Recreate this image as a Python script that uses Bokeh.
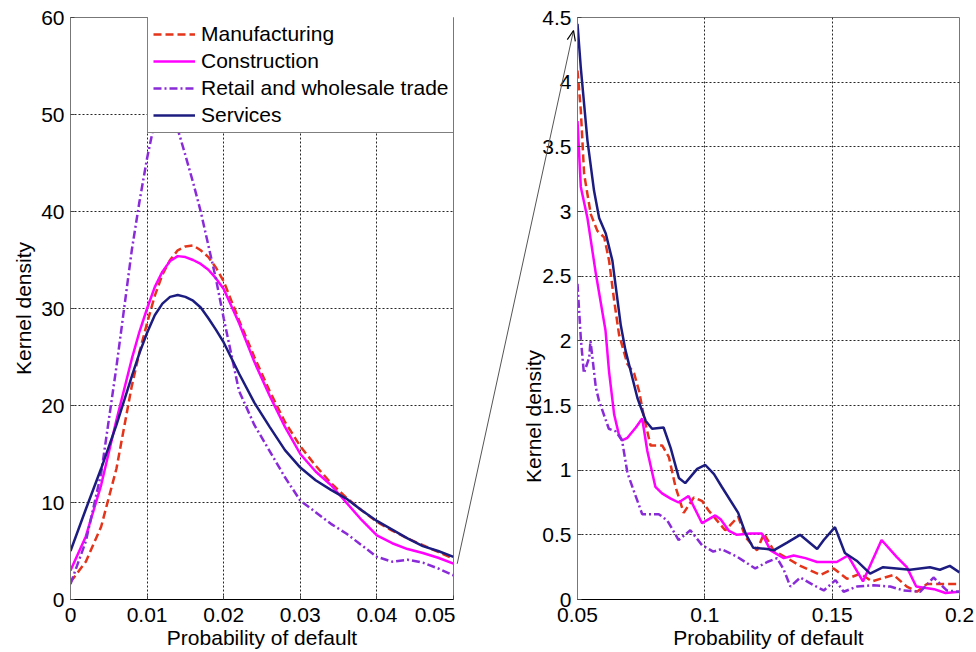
import math
from bokeh.plotting import figure
from bokeh.models import (Range1d, FixedTicker, CustomJSTickFormatter, Legend, LegendItem)
from bokeh.core.properties import value
from bokeh.layouts import row
from bokeh.embed import file_html
from bokeh.resources import INLINE

FONT = "Liberation Sans"
FS = "21px"

series_names = ["Manufacturing", "Construction", "Retail and wholesale trade", "Services"]

# ---- left panel (PD 0 - 0.05) ----
x_left = [0.0, 0.002, 0.004, 0.006, 0.008, 0.009, 0.010, 0.011, 0.012, 0.013, 0.014, 0.015,
          0.016, 0.017, 0.018, 0.019, 0.020, 0.022, 0.024, 0.026, 0.028, 0.030, 0.032,
          0.034, 0.036, 0.038, 0.040, 0.042, 0.044, 0.046, 0.048, 0.050]
manu_left = [1.8, 3.9, 7.5, 13.5, 22.0, 25.5, 28.5, 31.3, 33.5, 35.0, 36.0, 36.4,
             36.5, 36.0, 35.3, 34.2, 32.8, 28.8, 25.0, 21.5, 18.3, 15.8, 13.8,
             12.0, 10.5, 9.2, 8.0, 7.1, 6.3, 5.6, 4.9, 4.2]
cons_left = [3.0, 6.5, 11.8, 18.5, 24.8, 27.6, 30.0, 32.2, 33.8, 34.9, 35.4, 35.3,
             35.0, 34.6, 34.0, 33.1, 32.0, 28.5, 24.5, 21.0, 17.8, 15.0, 13.2,
             11.8, 10.0, 8.2, 6.6, 5.8, 5.2, 4.8, 4.3, 3.7]
reta_left = [1.6, 6.0, 13.0, 24.0, 36.0, 41.0, 45.5, 49.3, 51.5, 51.3, 48.5, 45.8,
             43.0, 40.0, 36.5, 33.0, 29.0, 21.5, 18.0, 15.3, 12.6, 10.2, 9.0,
             7.8, 6.8, 5.6, 4.4, 3.9, 4.1, 3.8, 3.2, 2.5]
serv_left = [5.0, 9.3, 13.5, 18.0, 23.0, 25.4, 27.5, 29.3, 30.5, 31.2, 31.4, 31.2,
             30.8, 30.1, 29.0, 27.8, 26.5, 23.3, 20.3, 17.8, 15.4, 13.6, 12.3,
             11.3, 10.4, 9.2, 8.1, 7.2, 6.3, 5.5, 5.0, 4.4]

# ---- right panel (PD 0.05 - 0.2) ----
manu_rx = [0.05, 0.0513, 0.0526, 0.0552, 0.0578, 0.0605, 0.0624, 0.0644, 0.0663, 0.0696, 0.0722,
           0.0742, 0.0761, 0.0787, 0.0833, 0.0859, 0.0885, 0.0917, 0.0957, 0.099, 0.1014, 0.108,
           0.1131, 0.116, 0.1205, 0.1232, 0.127, 0.1323, 0.1375, 0.1454, 0.1506, 0.1558, 0.1611,
           0.1656, 0.1741, 0.1793, 0.1833, 0.1872, 0.2]
manu_ry = [4.09, 3.78, 3.29, 2.98, 2.85, 2.80, 2.62, 2.31, 2.05, 1.82, 1.75,
           1.61, 1.41, 1.19, 1.19, 1.10, 0.87, 0.67, 0.79, 0.76, 0.69, 0.535,
           0.64, 0.48, 0.38, 0.51, 0.38, 0.32, 0.26, 0.19, 0.24, 0.16, 0.20,
           0.14, 0.19, 0.10, 0.06, 0.12, 0.12]

cons_rx = [0.05, 0.0513, 0.0539, 0.0572, 0.061, 0.0624, 0.0644, 0.0662, 0.0675, 0.0696, 0.0729,
           0.0754, 0.0774, 0.0806, 0.0832, 0.0866, 0.0897, 0.0936, 0.0989, 0.1041, 0.1062, 0.1095,
           0.1126, 0.118, 0.1224, 0.1258, 0.131, 0.1349, 0.1395, 0.1441, 0.1518, 0.1562, 0.1621,
           0.1694, 0.1753, 0.1793, 0.183, 0.19, 0.1945, 0.2]
cons_ry = [3.70, 3.19, 2.95, 2.52, 2.08, 1.76, 1.43, 1.28, 1.23, 1.25, 1.33,
           1.40, 1.15, 0.87, 0.82, 0.78, 0.75, 0.80, 0.59, 0.65, 0.62, 0.53,
           0.50, 0.51, 0.51, 0.38, 0.32, 0.34, 0.32, 0.29, 0.29, 0.34, 0.14,
           0.46, 0.33, 0.25, 0.10, 0.08, 0.05, 0.06]

reta_rx = [0.05, 0.0513, 0.0525, 0.0546, 0.0551, 0.0572, 0.0584, 0.0623, 0.065, 0.0675, 0.0696,
           0.0721, 0.0754, 0.0819, 0.0853, 0.0897, 0.0943, 0.0989, 0.1033, 0.1065, 0.1127, 0.1198,
           0.1245, 0.1284, 0.131, 0.1336, 0.1375, 0.1428, 0.1467, 0.1513, 0.1545, 0.1597, 0.1663,
           0.1728, 0.178, 0.1846, 0.1898, 0.195, 0.2]
reta_ry = [2.44, 2.02, 1.75, 1.87, 2.00, 1.64, 1.54, 1.32, 1.30, 1.23, 0.98,
           0.84, 0.66, 0.66, 0.61, 0.46, 0.535, 0.42, 0.37, 0.39, 0.33, 0.24,
           0.29, 0.32, 0.23, 0.10, 0.17, 0.11, 0.07, 0.15, 0.06, 0.10, 0.11,
           0.10, 0.07, 0.06, 0.17, 0.07, 0.06]

serv_rx = [0.05, 0.0513, 0.0539, 0.0565, 0.0585, 0.0611, 0.0637, 0.067, 0.0688, 0.0735, 0.0768,
           0.0793, 0.0838, 0.0866, 0.0898, 0.0923, 0.097, 0.1002, 0.1036, 0.1067, 0.1131, 0.116,
           0.119, 0.1245, 0.127, 0.1323, 0.1374, 0.1441, 0.1467, 0.1511, 0.155, 0.1596, 0.1649,
           0.17, 0.1806, 0.1884, 0.1923, 0.1962, 0.2]
serv_ry = [4.45, 4.11, 3.55, 3.16, 2.95, 2.83, 2.62, 2.12, 1.93, 1.56, 1.38,
           1.32, 1.33, 1.17, 0.94, 0.90, 1.01, 1.04, 0.97, 0.87, 0.67, 0.51,
           0.40, 0.39, 0.38, 0.44, 0.50, 0.39, 0.46, 0.56, 0.36, 0.30, 0.20,
           0.25, 0.23, 0.25, 0.23, 0.26, 0.21]

left_xticks = [0, 0.01, 0.02, 0.03, 0.04, 0.05]
left_yticks = [0, 10, 20, 30, 40, 50, 60]
right_xticks = [0.05, 0.1, 0.15, 0.2]
right_yticks = [0, 0.5, 1, 1.5, 2, 2.5, 3, 3.5, 4, 4.5]

colors = ["#E5341A", "#FF00FF", "#8A2BD8", "#1C1C80"]
dashes = ["8 4", "solid", "8 3 2 3", "solid"]

# layout geometry (pixels)
W1, W2, H = 455, 521, 652
FRAME_TOP, FRAME_BOTTOM = 17, 599
R_FRAME_LEFT, R_FRAME_RIGHT = 577, 959

fmt = CustomJSTickFormatter(code="return String(+tick.toFixed(4));")


def style(p, xt, yt):
    p.xaxis.ticker = FixedTicker(ticks=xt)
    p.yaxis.ticker = FixedTicker(ticks=yt)
    for ax in (p.xaxis[0], p.yaxis[0]):
        ax.formatter = fmt
        ax.major_label_text_font = FONT
        ax.major_label_text_font_size = FS
        ax.major_label_text_color = "black"
        ax.axis_label_text_font = FONT
        ax.axis_label_text_font_size = FS
        ax.axis_label_text_font_style = "normal"
        ax.axis_label_text_color = "black"
        ax.major_tick_in = 4
        ax.major_tick_out = 0
        ax.minor_tick_line_color = None
        ax.major_tick_line_color = "#444444"
    p.xaxis.axis_line_color = "black"
    p.yaxis.axis_line_color = "#777777"
    p.xaxis.major_label_standoff = 8
    p.xaxis.axis_label_standoff = 1
    p.yaxis.major_label_standoff = 6
    p.grid.grid_line_color = "black"
    p.grid.grid_line_dash = "2 2"
    p.grid.grid_line_alpha = 0.85
    p.grid.grid_line_width = 1
    p.outline_line_color = "#777777"
    p.outline_line_width = 1
    p.background_fill_color = "white"
    p.border_fill_color = "white"


# ---------- left figure ----------
p1 = figure(width=W1, height=H, output_backend="svg", toolbar_location=None,
            x_range=Range1d(0, 0.05), y_range=Range1d(0, 60),
            min_border_left=70, min_border_right=W1 - 453,
            min_border_top=FRAME_TOP, min_border_bottom=H - FRAME_BOTTOM)
style(p1, left_xticks, left_yticks)
p1.xaxis.axis_label = "Probability of default"
p1.yaxis.axis_label = "Kernel density"
p1.yaxis.axis_label_standoff = 3

left_data = [manu_left, cons_left, reta_left, serv_left]
items = []
for name, ys, c, d in zip(series_names, left_data, colors, dashes):
    r = p1.line(x_left, ys, line_color=c, line_width=2.5, line_dash=d)
    items.append(LegendItem(label=name, renderers=[r]))

legend = Legend(items=items, location=(77, 466), orientation="vertical",
                label_text_font=FONT, label_text_font_size=FS, label_text_color="black",
                glyph_width=42, glyph_height=20, label_height=20, label_standoff=6,
                spacing=3, padding=5, margin=0,
                border_line_color="black", border_line_width=1,
                background_fill_color="white", background_fill_alpha=1)
p1.add_layout(legend, "center")

# ---------- right figure ----------
p2 = figure(width=W2, height=H, output_backend="svg", toolbar_location=None,
            x_range=Range1d(0.05, 0.2), y_range=Range1d(0, 4.5),
            min_border_left=R_FRAME_LEFT - W1, min_border_right=W1 + W2 - R_FRAME_RIGHT,
            min_border_top=FRAME_TOP, min_border_bottom=H - FRAME_BOTTOM)
style(p2, right_xticks, right_yticks)
p2.xaxis.axis_label = "Probability of default"

right_data = [(manu_rx, manu_ry), (cons_rx, cons_ry), (reta_rx, reta_ry), (serv_rx, serv_ry)]
for (xs, ys), c, d in zip(right_data, colors, dashes):
    p2.line(xs, ys, line_color=c, line_width=2.5, line_dash=d)

xr, yr = p2.x_range, p2.y_range
sx = (R_FRAME_RIGHT - R_FRAME_LEFT) / (xr.end - xr.start)
sy = (FRAME_BOTTOM - FRAME_TOP) / (yr.end - yr.start)


def to_data(px, py):
    """page pixel -> right panel data coordinates (for decorations in its border)"""
    return xr.start + (px - R_FRAME_LEFT) / sx, yr.start + (FRAME_BOTTOM - py) / sy


# right panel y-axis title (placed lower than centre, as in the original)
lx, ly = to_data(533, 416)
p2.text(x=[lx], y=[ly], text=["Kernel density"], angle=math.pi / 2,
        text_align="center", text_baseline="middle", text_font=value(FONT),
        text_font_size=FS, text_color="black", level="overlay")

# ---------- zoom arrow (decoration): from the left panel's right edge to the right panel's corner ----------
tail_px = (456.7, 563.3)
tip_px = (573.0, 30.0)
tx, ty = to_data(*tail_px)
hx, hy = to_data(*tip_px)
p2.segment(x0=[tx], y0=[ty], x1=[hx], y1=[hy], line_color="#555555", line_width=1, level="overlay")

dx, dy = tail_px[0] - tip_px[0], tail_px[1] - tip_px[1]
L = math.hypot(dx, dy)
ux, uy = dx / L, dy / L
head_len, ang = 11.0, math.radians(22)
barbs = []
for s in (1, -1):
    c, sn = math.cos(ang), s * math.sin(ang)
    bx = tip_px[0] + head_len * (ux * c - uy * sn)
    by = tip_px[1] + head_len * (ux * sn + uy * c)
    barbs.append(to_data(bx, by))
p2.line(x=[barbs[0][0], hx, barbs[1][0]], y=[barbs[0][1], hy, barbs[1][1]],
        line_color="black", line_width=1.2, level="overlay")

layout = row(p1, p2)
open("out.html", "w").write(file_html(layout, INLINE))
